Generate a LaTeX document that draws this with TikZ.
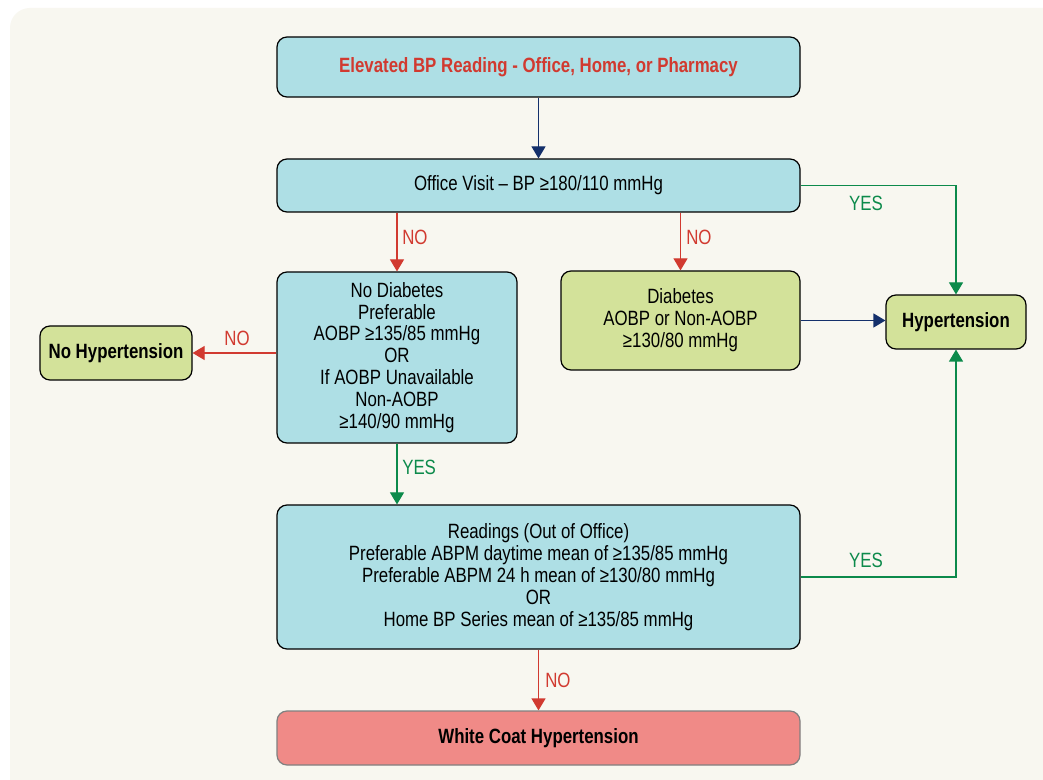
\documentclass[tikz,border=0pt]{standalone}
\usepackage{fontspec}
\setmainfont{Liberation Sans}[FakeStretch=0.815]
\usetikzlibrary{arrows.meta}
\definecolor{bgc}{HTML}{F8F7F0}
\definecolor{boxblue}{HTML}{AEDFE5}
\definecolor{boxgreen}{HTML}{D3E29A}
\definecolor{boxpink}{HTML}{F08A87}
\definecolor{lred}{HTML}{D13A30}
\definecolor{lgreen}{HTML}{0C8A4B}
\definecolor{lnavy}{HTML}{14306B}
\begin{document}
\begin{tikzpicture}[x=0.75pt,y=-0.75pt,
  txt/.style={font=\fontsize{15.5}{16.4}\selectfont},
  btxt/.style={font=\fontsize{15.5}{16.4}\selectfont\bfseries},
  box/.style={draw=black, line width=0.9pt, rounded corners=7.5pt, align=center,
    inner sep=0pt, txt, minimum width={523*0.75pt}},
  bluebox/.style={box, fill=boxblue},
  greenbox/.style={box, fill=boxgreen},
  conn/.style={line width=0.9pt, -{Triangle[length=9pt,width=10.5pt]}},
  redc/.style={conn, draw=lred, color=lred},
  greenc/.style={conn, draw=lgreen, color=lgreen},
  navyc/.style={conn, draw=lnavy, color=lnavy},
  lab/.style={txt, inner sep=0pt}]
\useasboundingbox (0,0) rectangle (1043,780);
\fill[white] (0,0) rectangle (1043,780);
\fill[bgc] (10,780) [rounded corners=15pt]-- (10,8) [sharp corners]-- (1043,8) -- (1043,780) -- cycle;

\node[bluebox, minimum height={60*0.75pt}, text=lred, btxt] (top) at (538.5,67) {Elevated BP Reading - Office, Home, or Pharmacy};
\node[bluebox, minimum height={53*0.75pt}] (office) at (538.5,185.5) {Office Visit -- BP ≥180/110 mmHg};
\node[bluebox, minimum width={240*0.75pt}, minimum height={171*0.75pt}] (nodiab) at (397,357.5)
  {No Diabetes\\Preferable\\AOBP ≥135/85 mmHg\\OR\\If AOBP Unavailable\\Non-AOBP\\≥140/90 mmHg};
\node[greenbox, minimum width={239*0.75pt}, minimum height={99*0.75pt}] (diab) at (680.5,320.5)
  {Diabetes\\AOBP or Non-AOBP\\≥130/80 mmHg};
\node[greenbox, minimum width={140*0.75pt}, minimum height={54*0.75pt}, btxt] (hyp) at (956,322) {Hypertension};
\node[greenbox, minimum width={152*0.75pt}, minimum height={54*0.75pt}, btxt] (nohyp) at (116,353) {No Hypertension};
\node[bluebox, minimum height={144*0.75pt}] (read) at (538.5,577)
  {Readings (Out of Office)\\Preferable ABPM daytime mean of ≥135/85 mmHg\\Preferable ABPM 24 h mean of ≥130/80 mmHg\\OR\\Home BP Series mean of ≥135/85 mmHg};
\node[box, draw=gray, fill=boxpink, minimum height={54*0.75pt}, btxt] (white) at (538.5,738) {White Coat Hypertension};

\draw[navyc] (top) -- (office);
\draw[redc] (office.south -| nodiab) -- (nodiab.north);
\node[lab, text=lred, anchor=west] (no1) at (402,237) {NO};
\draw[redc] (office.south -| diab.north) -- (diab.north);
\node[lab, text=lred, anchor=west] (no2) at (686,237) {NO};
\draw[greenc] (office.east) -| (hyp.north);
\node[lab, text=lgreen] (yes1) at (866,203) {YES};
\draw[navyc] (diab.east) -- (diab.east -| hyp.west);
\draw[redc] (nodiab.west |- nohyp) -- (nohyp.east);
\node[lab, text=lred] (no3) at (237,338) {NO};
\draw[greenc] (nodiab.south) -- (read.north -| nodiab);
\node[lab, text=lgreen, anchor=west] (yes2) at (402,467) {YES};
\draw[greenc] (read.east) -| (hyp.south);
\node[lab, text=lgreen] (yes3) at (866,560) {YES};
\draw[redc] (read) -- (white);
\node[lab, text=lred, anchor=west] (no4) at (545,680) {NO};
\end{tikzpicture}
\end{document}
